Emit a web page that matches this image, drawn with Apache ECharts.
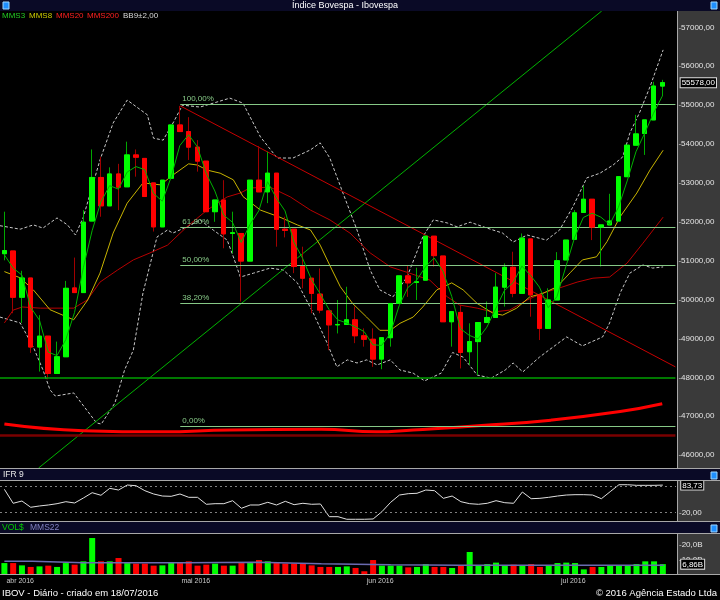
<!DOCTYPE html>
<html>
<head>
<meta charset="utf-8">
<title>Índice Bovespa - Ibovespa</title>
<script src="https://cdn.jsdelivr.net/npm/echarts@6/dist/echarts.min.js"></script>
<style>
  html, body { margin: 0; padding: 0; background: #000; }
  #chart { width: 720px; height: 600px; }
</style>
</head>
<body>
<div id="chart"></div>
<script>
// pregões de 31/03/2016 a 18/07/2016
const dates = [
  '31/03',
  '01/04','04/04','05/04','06/04','07/04','08/04','11/04','12/04','13/04','14/04',
  '15/04','18/04','19/04','20/04','22/04','25/04','26/04','27/04','28/04','29/04',
  '02/05','03/05','04/05','05/05','06/05','09/05','10/05','11/05','12/05','13/05',
  '16/05','17/05','18/05','19/05','20/05','23/05','24/05','25/05','27/05','30/05','31/05',
  '01/06','02/06','03/06','06/06','07/06','08/06','09/06','10/06','13/06','14/06',
  '15/06','16/06','17/06','20/06','21/06','22/06','23/06','24/06','27/06','28/06','29/06','30/06',
  '01/07','04/07','05/07','06/07','07/07','08/07','11/07','12/07','13/07','14/07','15/07','18/07'
];

// [abertura, fechamento, mínima, máxima]
const candles = [
  [51180, 51260, 51010, 52260], [51250, 50060, 49650, 51250], [50060, 50555, 49400, 50740],
  [50555, 48780, 48630, 50555], [48780, 49060, 48150, 49600], [49060, 48100, 47950, 49060],
  [48100, 48530, 48100, 48920], [48530, 50290, 48530, 50480], [50300, 50180, 50180, 51080],
  [50180, 51990, 50180, 52300], [52020, 53140, 52020, 53860], [53140, 52410, 52130, 53670],
  [52410, 53230, 52410, 53400], [53230, 52890, 52300, 53490], [52900, 53720, 52900, 54060],
  [53720, 53660, 53160, 53860], [53630, 52650, 52640, 53630], [53000, 51870, 51750, 53000],
  [51870, 53070, 51870, 53070], [53120, 54490, 53120, 54490], [54490, 54320, 54320, 54980],
  [54320, 53920, 53590, 54690], [53920, 53560, 53290, 54100], [53560, 52260, 52260, 53560],
  [52260, 52560, 52000, 52560], [52560, 51690, 51320, 53070], [51700, 51720, 51190, 52260],
  [51700, 50990, 49950, 51700], [50990, 53070, 50990, 53070], [53070, 52770, 52770, 53950],
  [52770, 53250, 52480, 53800], [53250, 51810, 51360, 53250], [51810, 51780, 51600, 52130],
  [51810, 50850, 50680, 51810], [50850, 50550, 50290, 51360], [50550, 50160, 49650, 50550],
  [50140, 49730, 49650, 50800], [49710, 49350, 48700, 49710], [49350, 49360, 49130, 49990],
  [49360, 49480, 49360, 50330], [49480, 49070, 48880, 49820], [49070, 48980, 48790, 49260],
  [48980, 48470, 48270, 49260], [48470, 49020, 48210, 49020], [49020, 49900, 48790, 49900],
  [49900, 50610, 49900, 50610], [50610, 50430, 50070, 50890], [50440, 50460, 49990, 50820],
  [50500, 51630, 50500, 51630], [51630, 51130, 50850, 51630], [51120, 49430, 49430, 51120],
  [49430, 49690, 48790, 49690], [49670, 48640, 48230, 49860], [48660, 48920, 48320, 49390],
  [48920, 49410, 48060, 49410], [49410, 49540, 49410, 49950], [49540, 50320, 49540, 50680],
  [50320, 50830, 49820, 50930], [50830, 50160, 50060, 51230], [50160, 51580, 50160, 51700],
  [51560, 50120, 49560, 51560], [50120, 49260, 48960, 50120], [49260, 49990, 49260, 50290],
  [49990, 51000, 49990, 51220], [51020, 51530, 51020, 51530], [51550, 52230, 51550, 52300],
  [52240, 52580, 52240, 52920], [52580, 51860, 51530, 52580], [51860, 51920, 50850, 51920],
  [51920, 52020, 51920, 52720], [52020, 53160, 52020, 53160], [53160, 53970, 53160, 53970],
  [53970, 54260, 53970, 54750], [54270, 54620, 53720, 54620], [54620, 55490, 54620, 55600],
  [55490, 55578, 55230, 55650]
];

const mms3 = [
  51150, 50810, 50630, 49800, 49470, 48650, 48560, 48970, 49670, 50820,
  51770, 52510, 52930, 52840, 53280, 53420, 53340, 52730, 52530, 53140,
  53960, 54240, 53930, 53250, 52790, 52170, 51990, 51470, 51930, 52280,
  53030, 52610, 52280, 51480, 51060, 50520, 50150, 49750, 49480, 49400,
  49300, 49180, 48840, 48820, 49130, 49840, 50310, 50500, 50840, 51070,
  50730, 50080, 49250, 49080, 48990, 49290, 49760, 50230, 50440, 50860,
  50620, 50320, 49790, 50080, 50840, 51590, 52110, 52220, 52120, 51930,
  52370, 53050, 53800, 54280, 54790, 55230
];

// [posição do pregão, valor]
const mms8 = [
  [0, 50720], [1.8, 50560], [3.3, 50250], [5.2, 49740], [7.9, 49480], [9.5, 49990],
  [10.9, 50680], [12.4, 51710], [14, 52480], [15.8, 53000], [17.8, 52950], [19.2, 53200],
  [21, 53490], [22, 53460], [23.1, 53330], [24.6, 53250], [26.1, 53080], [27.2, 52650],
  [29.2, 52300], [31.4, 52120], [33.4, 51920], [34.9, 51790], [36, 51400], [37.1, 50880],
  [38.3, 50330], [39.7, 49900], [41.3, 49550], [42.8, 49210], [44, 49210], [45.1, 49390],
  [46.6, 49550], [47.7, 49810], [49.3, 50250], [51, 50430], [52.3, 50250], [53.9, 49900],
  [55.7, 49650], [56.8, 49600], [58.4, 49780], [59.9, 50070], [61.4, 50160], [63, 50330],
  [64.5, 50690], [65.9, 51020], [67.5, 51100], [68.7, 51490], [70.2, 52130], [72.1, 52740],
  [73.6, 53330], [75.1, 53840]
];

const mms20 = [
  [0, 49400], [1, 49730], [2.05, 49810], [4.1, 49780], [6.4, 49780], [7.9, 49780],
  [9.45, 49990], [10.9, 50450], [12.9, 50760], [14.7, 51020], [16.6, 51200], [18.6, 51400],
  [20.8, 51870], [23.1, 52300], [25.4, 52640], [26.9, 52740], [28, 52870], [30.3, 52890],
  [32.6, 52640], [34.9, 52300], [37.1, 52050], [39.4, 51710], [41.7, 51200], [44, 50840],
  [46.2, 50680], [48.5, 50500], [50.5, 50070], [51.9, 49860], [53.9, 49780], [55.7, 49680],
  [57.6, 49730], [59.6, 49990], [61.4, 50170], [63.3, 50300], [65.3, 50450], [67.1, 50550],
  [69, 50580], [71, 50940], [72.8, 51450], [75.1, 52120]
];

const mms200 = [
  [0, 46800], [9, 46630], [17.9, 46600], [25.7, 46650], [36.1, 46665], [42.4, 46600],
  [46.6, 46650], [54.4, 46760], [62.3, 46900], [70.2, 47120], [75, 47320]
];

const bbUpper = [
  [-0.5, 51900], [1.8, 51810], [3.3, 51920], [4.4, 51840], [6, 52100], [7.2, 51920],
  [8.1, 51660], [9, 52120], [10.9, 53590], [12.4, 54540], [14, 55130], [16.3, 54750],
  [17, 54150], [18.1, 54100], [19.3, 54570], [20.3, 55000], [22.3, 54950], [23.8, 55050],
  [25.7, 55180], [27.2, 55050], [29.2, 54180], [31.1, 53640], [32.9, 53640], [34.9, 53850],
  [36, 54030], [37.1, 53640], [38.6, 52740], [40.2, 51790], [41.7, 50760], [42.8, 50250],
  [44.3, 50070], [45.9, 50580], [47.7, 51610], [48.9, 52050], [50.5, 51970], [51.6, 51870],
  [53.1, 51990], [55, 51840], [56.8, 51710], [58, 51480], [59.6, 51660], [61.8, 51530],
  [63.3, 51790], [64.8, 52380], [66.4, 53130], [67.9, 53250], [69.4, 53460], [70.5, 53670],
  [71.3, 54280], [72.4, 54800], [73.6, 55470], [75.1, 56420]
];

const bbLower = [
  [-0.5, 49550], [1.8, 49400], [3.3, 48780], [4.4, 48190], [5.2, 47680], [5.8, 47520],
  [7.9, 47600], [10.5, 46830], [11.05, 46800], [12.6, 47340], [13.7, 48190], [14.7, 48700],
  [15.8, 50170], [17.4, 51610], [18.6, 51790], [19.2, 51710], [20.8, 51870], [22.3, 52050],
  [23.8, 51790], [25.4, 51530], [26.1, 51100], [26.9, 50580], [28.4, 50680], [30.3, 50810],
  [31.8, 50760], [33.4, 50430], [35.2, 49660], [36.8, 48880], [37.9, 48270], [39.1, 48450],
  [40.2, 48370], [41.3, 48450], [42.5, 48320], [44, 48450], [45.1, 48190], [46.6, 48110],
  [47.9, 47910], [49.8, 48110], [51.1, 48640], [52.3, 48520], [53.9, 48060], [55.5, 47980],
  [57.1, 48190], [58, 48370], [59.1, 48140], [61, 48520], [64.1, 49040], [65.9, 48810],
  [68.2, 49040], [69, 49400], [70.2, 50170], [71.3, 50680], [72.8, 50890], [73.9, 50810],
  [75.1, 50840]
];

const greenTrend = [[3.9, 45670], [68.1, 57420]];
const redTrend = [[20.05, 54980], [76.5, 48270]];

const fibStart = 20.05;
const fibLevels = [55010, 51851, 50875, 49899, 46740];
const fibLabels = ['100,00%', '61,80%', '50,00%', '38,20%', '0,00%'];
const supportLine = 48000;
const lowLine = 46500;

const priceTicks = [46000, 47000, 48000, 49000, 50000, 51000, 52000, 53000, 54000, 55000, 56000, 57000];
const lastClose = 55578;

const ifr = [
  74.0, 41.7, 47.0, 32.5, 35.5, 37.8, 40.8, 45.4, 42.4, 53.9,
  66.2, 60.2, 76.3, 72.4, 83.9, 82.3, 70.8, 63.2, 58.5, 57.8,
  63.2, 55.5, 55.5, 39.4, 40.8, 40.8, 47.7, 30.2, 37.8, 37.8,
  44.0, 37.8, 46.3, 38.5, 41.7, 39.4, 40.1, 10.8, 10.8, 4.8,
  4.8, 4.8, 5.5, 22.3, 44.0, 60.8, 63.9, 64.8, 72.4, 70.8,
  53.2, 58.5, 45.4, 40.8, 39.4, 41.7, 47.7, 43.1, 41.7, 67.8,
  52.3, 53.2, 55.5, 58.5, 60.8, 61.6, 61.6, 60.8, 52.3, 68.5,
  84.6, 84.6, 83.2, 83.2, 83.2, 83.73
];
const ifrLevels = [20, 80];
const ifrLast = 83.73;

// volume financeiro em bilhões
const volume = [
  7.6, 7.6, 6.0, 4.9, 5.3, 5.8, 4.9, 7.6, 6.5, 8.8,
  25.0, 8.8, 8.8, 11.1, 7.6, 7.2, 7.2, 5.8, 6.0, 8.3,
  7.6, 8.8, 5.8, 6.5, 7.2, 5.8, 5.8, 7.6, 7.6, 9.7,
  8.8, 7.6, 7.2, 7.2, 7.6, 6.0, 4.9, 4.9, 4.9, 5.3,
  4.2, 1.9, 9.7, 5.8, 5.8, 5.8, 4.6, 4.9, 6.9, 4.9,
  4.9, 4.2, 5.8, 15.3, 5.8, 6.9, 7.9, 5.8, 6.5, 5.8,
  6.9, 4.9, 5.8, 7.6, 7.9, 7.6, 3.2, 4.9, 4.9, 5.8,
  5.8, 5.8, 6.9, 8.8, 8.8, 6.86
];
const volMms22 = [
  [0, 8.8], [3.2, 8.8], [9, 7.9], [20.5, 7.9], [28.8, 8.1], [36.1, 7.2],
  [44, 6.5], [51.8, 6.0], [62.3, 6.0], [75.1, 6.0]
];
const volTicks = [20, 10];
const volLast = 6.86;

const monthFirst = [1, 21, 42, 64];
const monthNames = ['abr 2016', 'mai 2016', 'jun 2016', 'jul 2016'];

const FONT = 'Liberation Sans, Arial, sans-serif';
const UP = '#00ff00', DOWN = '#ff0000';

const chart = echarts.init(document.getElementById('chart'));

const cats = dates.concat(['']);
const bodies = candles.map(c => [c[0], c[1], Math.min(c[0], c[1]), Math.max(c[0], c[1])]);
const volData = volume.map((v, i) => ({
  value: v,
  itemStyle: { color: candles[i][1] >= candles[i][0] ? UP : DOWN }
}));
const monthPos = monthFirst.map(i => i + 0.8);
const fmt2 = v => v.toFixed(2).replace('.', ',');
const near = (a, b) => Math.abs(a - b) < 0.001;

const fibMarks = fibLevels.map((lv, i) => [
  {
    name: fibLabels[i], coord: [fibStart, lv],
    lineStyle: { color: '#86c886', width: 1, type: 'solid' },
    label: { show: true, formatter: '{b}', position: 'insideStartTop', color: '#86c886',
             fontSize: 8, fontFamily: FONT, distance: [2, 2] }
  },
  { coord: [76.5, lv] }
]);

// marca de escala desenhada como traço antes do número
const rightLabels = {
  margin: 3, fontSize: 8, color: '#e4e4e4', fontFamily: FONT, hideOverlap: false,
  rich: {
    box: { color: '#ffffff', backgroundColor: '#000', borderColor: '#dcdcdc', borderWidth: 1,
           padding: [1, 1, 0, 1], fontSize: 8, fontFamily: FONT },
    t: { color: '#d0d0d0', fontSize: 8, fontFamily: FONT }
  }
};
const tickText = s => '{t|-}' + s;
const boxText = s => ' {box|' + s + '}';

const hiddenCat = g => ({ type: 'category', gridIndex: g, data: cats, show: false });
const hiddenVal = g => ({ type: 'value', gridIndex: g, min: -0.5, max: 76.5, show: false });

const panelBg = '#3a3a3a', headBg = '#0a0a26', sep = '#a8a8a8';
const txt = (x, y, text, fill, size, align) => ({
  type: 'text', x: x, y: y, z: 100,
  style: { text: text, fill: fill, font: size + 'px ' + FONT,
           align: align || 'left', textAlign: align || 'left',
           verticalAlign: 'middle', textVerticalAlign: 'middle' }
});
const rect = (x, y, w, h, fill, z) => ({ type: 'rect', z: z, shape: { x: x, y: y, width: w, height: h }, style: { fill: fill } });
const hline = (x1, x2, y, color) => ({ type: 'line', z: 50, shape: { x1: x1, y1: y, x2: x2, y2: y }, style: { stroke: color, lineWidth: 1 } });
const vline = (x, y1, y2, color) => ({ type: 'line', z: 50, shape: { x1: x, y1: y1, x2: x, y2: y2 }, style: { stroke: color, lineWidth: 1 } });
const icon = (x, y) => ({ type: 'rect', z: 60, shape: { x: x, y: y, width: 6, height: 7 }, style: { fill: '#1f8fff', stroke: '#9fd6ff', lineWidth: 1 } });

const option = {
  backgroundColor: '#000',
  animation: false,
  grid: [
    { left: 0, top: 11, width: 676, height: 457 },
    { left: 0, top: 481, width: 676, height: 41 },
    { left: 0, top: 534, width: 676, height: 40 }
  ],
  xAxis: [
    hiddenCat(0), hiddenVal(0),
    hiddenCat(1),
    hiddenCat(2),
    {
      type: 'value', gridIndex: 2, min: -0.5, max: 76.5, position: 'bottom',
      axisLine: { show: false }, splitLine: { show: false }, axisTick: { show: false },
      axisLabel: {
        customValues: monthPos, margin: 4, fontSize: 7, color: '#c8c8c8', fontFamily: FONT,
        formatter: v => {
          const k = monthPos.findIndex(p => Math.abs(p - v) < 0.01);
          return k >= 0 ? monthNames[k] : '';
        }
      }
    }
  ],
  yAxis: [
    {
      type: 'value', gridIndex: 0, position: 'right', min: 45670, max: 57420,
      splitLine: { show: false }, axisLine: { show: false }, axisTick: { show: false },
      axisLabel: Object.assign({}, rightLabels, {
        customValues: priceTicks.concat([lastClose]),
        formatter: v => near(v, lastClose) ? boxText(fmt2(v)) : tickText(fmt2(v))
      })
    },
    {
      type: 'value', gridIndex: 1, position: 'right', min: -1.5, max: 93.2,
      splitLine: { show: false }, axisLine: { show: false }, axisTick: { show: false },
      axisLabel: Object.assign({}, rightLabels, {
        customValues: [20, ifrLast],
        formatter: v => near(v, ifrLast) ? boxText(fmt2(v)) : tickText(fmt2(v))
      })
    },
    {
      type: 'value', gridIndex: 2, position: 'right', min: 0, max: 27.8,
      splitLine: { show: false }, axisLine: { show: false }, axisTick: { show: false },
      axisLabel: Object.assign({}, rightLabels, {
        customValues: volTicks,
        formatter: v => tickText(v.toFixed(1).replace('.', ',') + 'B')
      })
    },
    {
      // eixo à parte só para a caixa do último volume, que cobre o rótulo 10,0B
      type: 'value', gridIndex: 2, position: 'right', min: 0, max: 27.8,
      splitLine: { show: false }, axisLine: { show: false }, axisTick: { show: false },
      axisLabel: Object.assign({}, rightLabels, {
        customValues: [volLast],
        formatter: v => boxText(v.toFixed(2).replace('.', ',') + 'B')
      })
    }
  ],
  series: [
    { name: 'BB sup', type: 'line', xAxisIndex: 1, yAxisIndex: 0, data: bbUpper, showSymbol: false,
      lineStyle: { color: '#c8c8c8', width: 1, type: [3, 2] }, z: 2, silent: true },
    { name: 'BB inf', type: 'line', xAxisIndex: 1, yAxisIndex: 0, data: bbLower, showSymbol: false,
      lineStyle: { color: '#c8c8c8', width: 1, type: [3, 2] }, z: 2, silent: true },
    { name: 'LTA', type: 'line', xAxisIndex: 1, yAxisIndex: 0, data: greenTrend, showSymbol: false,
      lineStyle: { color: '#00b400', width: 1 }, z: 2, silent: true,
      markLine: {
        silent: true, symbol: ['none', 'none'],
        data: [
          { yAxis: supportLine, lineStyle: { color: '#00a000', width: 1.5, type: 'solid' }, label: { show: false } },
          { yAxis: lowLine, lineStyle: { color: '#7a0000', width: 2.5, type: 'solid' }, label: { show: false } }
        ].concat(fibMarks)
      } },
    { name: 'LTB', type: 'line', xAxisIndex: 1, yAxisIndex: 0, data: redTrend, showSymbol: false,
      lineStyle: { color: '#c80000', width: 1 }, z: 2, silent: true },
    { name: 'MMS200', type: 'line', xAxisIndex: 1, yAxisIndex: 0, data: mms200, showSymbol: false, smooth: true,
      lineStyle: { color: '#ff0000', width: 3 }, z: 3, silent: true },
    { name: 'MMS20', type: 'line', xAxisIndex: 1, yAxisIndex: 0, data: mms20, showSymbol: false,
      lineStyle: { color: '#b80000', width: 1 }, z: 3, silent: true },
    { name: 'MMS8', type: 'line', xAxisIndex: 1, yAxisIndex: 0, data: mms8, showSymbol: false,
      lineStyle: { color: '#c8b400', width: 1 }, z: 3, silent: true },
    { name: 'candles', type: 'candlestick', xAxisIndex: 0, yAxisIndex: 0, data: candles, barWidth: 5,
      itemStyle: { color: '#00a000', color0: '#a00000', borderColor: '#00a800', borderColor0: '#a00000', borderWidth: 1 },
      z: 4, silent: true },
    { name: 'bodies', type: 'candlestick', xAxisIndex: 0, yAxisIndex: 0, data: bodies, barWidth: 5,
      itemStyle: { color: UP, color0: DOWN, borderColor: UP, borderColor0: DOWN, borderWidth: 1 },
      z: 5, silent: true },
    { name: 'MMS3', type: 'line', xAxisIndex: 0, yAxisIndex: 0, data: mms3, showSymbol: false,
      lineStyle: { color: '#00b400', width: 1 }, z: 6, silent: true },
    { name: 'IFR 9', type: 'line', xAxisIndex: 2, yAxisIndex: 1, data: ifr, showSymbol: false,
      lineStyle: { color: '#e0e0e0', width: 1 }, z: 3, silent: true,
      markLine: {
        silent: true, symbol: ['none', 'none'], label: { show: false },
        lineStyle: { color: '#808080', type: [2, 3], width: 1 },
        data: ifrLevels.map(v => ({ yAxis: v }))
      } },
    { name: 'VOL$', type: 'bar', xAxisIndex: 3, yAxisIndex: 2, data: volData, barWidth: 6, z: 2, silent: true },
    { name: 'MMS22', type: 'line', xAxisIndex: 4, yAxisIndex: 2, data: volMms22, showSymbol: false,
      lineStyle: { color: '#6a6ab0', width: 1.5 }, z: 3, silent: true }
  ],
  graphic: {
    elements: [
      // faixas de título
      rect(0, 0, 720, 11, headBg, 40),
      rect(0, 469, 720, 12, headBg, 40),
      rect(0, 522, 720, 12, headBg, 40),
      // painéis da escala à direita
      rect(677, 11, 43, 457, panelBg, -10),
      rect(677, 481, 43, 41, panelBg, -10),
      rect(677, 534, 43, 40, panelBg, -10),
      vline(677.5, 11, 468, sep), vline(677.5, 481, 522, sep), vline(677.5, 534, 574, sep),
      hline(0, 720, 468.5, sep), hline(0, 720, 480.5, sep),
      hline(0, 720, 521.5, sep), hline(0, 720, 533.5, sep), hline(0, 720, 574.5, sep),
      icon(3, 2), icon(711, 2), icon(711, 472), icon(711, 525),
      txt(345, 5.5, 'Índice Bovespa - Ibovespa', '#ffffff', 9, 'center'),
      txt(2, 15.5, 'MMS3', '#22cc22', 8),
      txt(29, 15.5, 'MMS8', '#cccc00', 8),
      txt(56, 15.5, 'MMS20', '#ff2020', 8),
      txt(87, 15.5, 'MMS200', '#ff2020', 8),
      txt(123, 15.5, 'BB9±2,00', '#d8d8d8', 8),
      txt(3, 475, 'IFR 9', '#e8e8e8', 8.5),
      txt(2, 528, 'VOL$', '#00cc00', 8.5),
      txt(30, 528, 'MMS22', '#8080c0', 8.5),
      txt(2, 593, 'IBOV - Diário - criado em 18/07/2016', '#ffffff', 9.5),
      txt(717, 593, '© 2016 Agência Estado Ltda', '#ffffff', 9.5, 'right')
    ]
  }
};

chart.setOption(option);
</script>
</body>
</html>
